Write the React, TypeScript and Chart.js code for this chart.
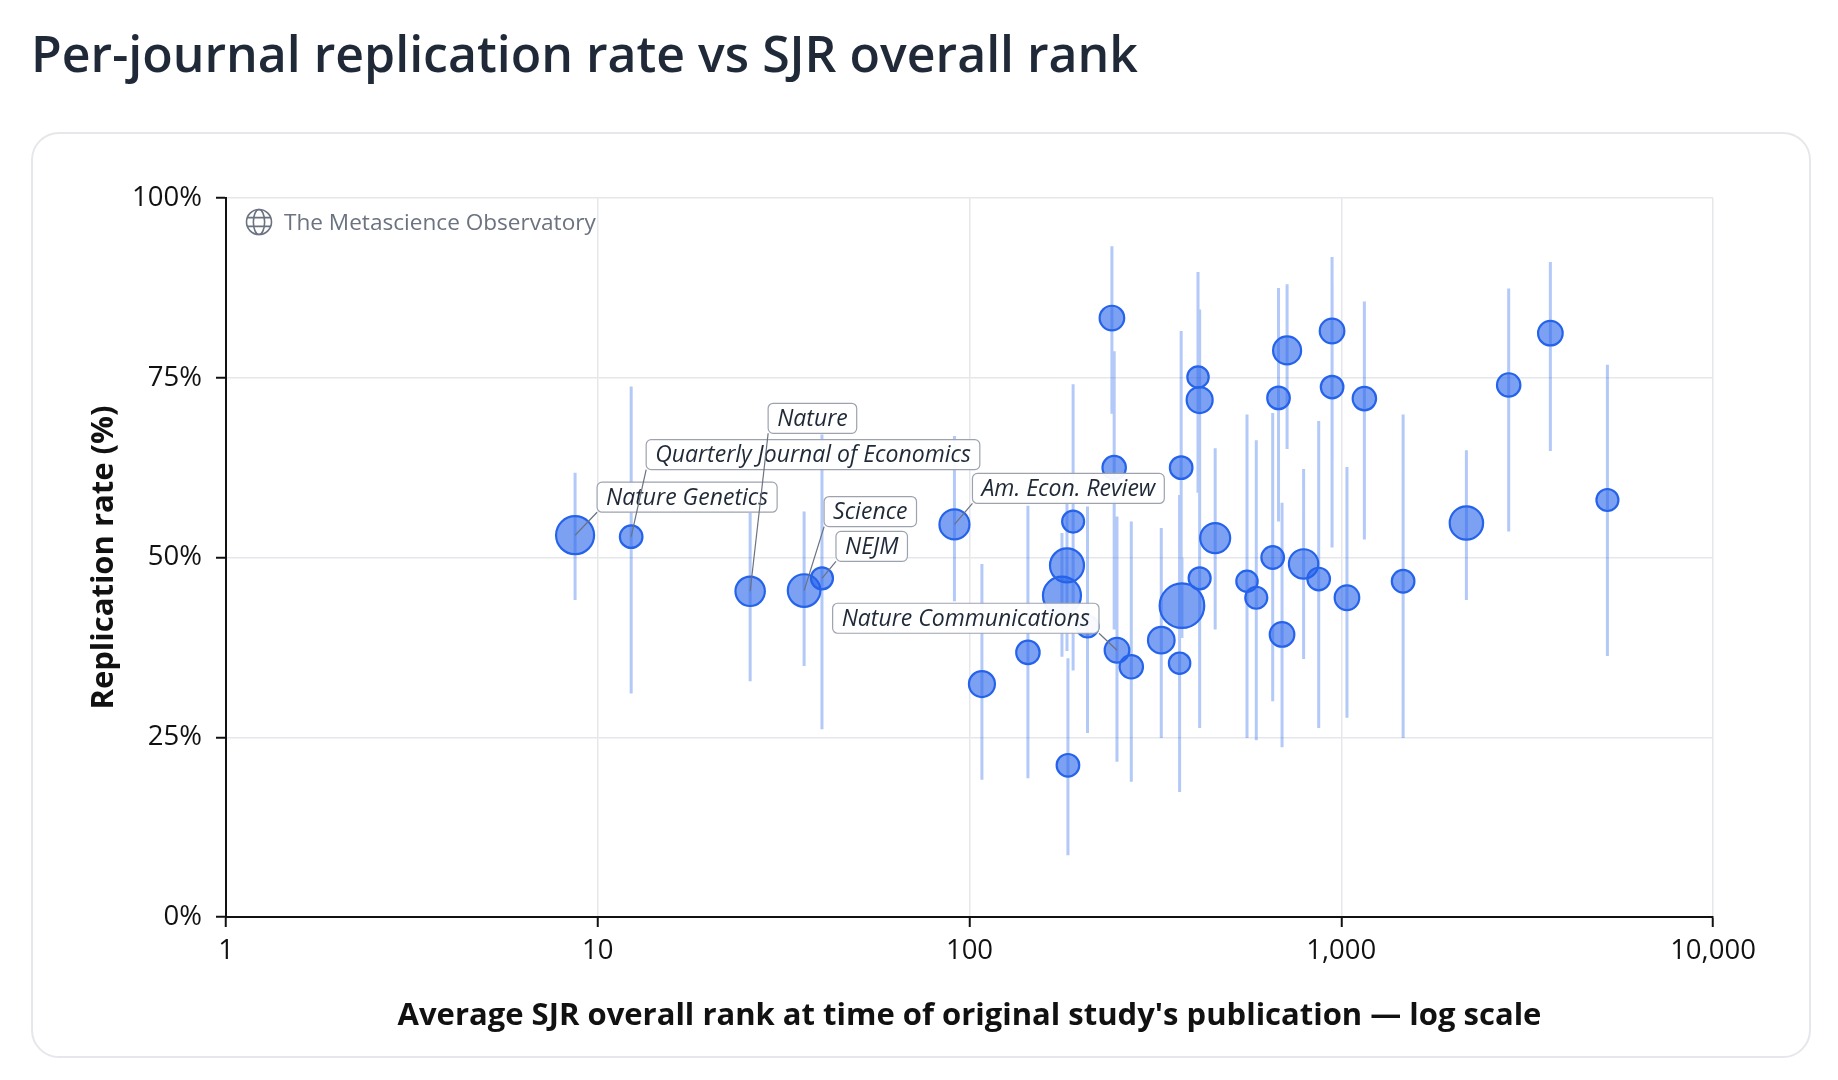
import { useEffect, useRef } from "react"
import { Chart, registerables } from "chart.js"

Chart.register(...registerables)

// journal names (blank = unlabelled point)
const journals = [
  "Nature Genetics", "Quarterly Journal of Economics", "Nature", "Science", "NEJM", "Am. Econ. Review",
  "", "", "", "", "", "", "", "", "", "Nature Communications", "", "", "", "", "", "", "", "", "",
  "", "", "", "", "", "", "", "", "", "", "", "", "", "", "", "", "",
]
// average SJR overall rank (x, log scale)
const ranks = [
  8.69, 12.3, 25.7, 35.9, 40.1, 91.1, 108, 143.6, 177.3, 182.9, 184, 190, 207.7, 241.6, 245, 249.3,
  272.4, 328, 367.4, 371, 372.8, 411.8, 416, 416, 458, 557.8, 590.8, 654, 678, 693, 715, 792, 869.6,
  944.6, 945, 1036, 1154, 1467, 2171, 2821, 3652, 5200,
]
// replication rate (%)
const rates = [
  53.1, 52.9, 45.3, 45.4, 47.1, 54.6, 32.4, 36.8, 44.7, 48.9, 21.1, 55.0, 40.4, 83.3, 62.5, 37.1,
  34.8, 38.5, 35.3, 62.5, 43.3, 75.1, 71.9, 47.1, 52.7, 46.7, 44.4, 50.0, 72.2, 39.3, 78.8, 49.1, 47.0,
  81.5, 73.7, 44.4, 72.1, 46.7, 54.8, 74.0, 81.2, 58.0,
]
const ciLow = [
  44.1, 31.1, 32.8, 34.9, 26.1, 43.9, 19.1, 19.3, 36.2, 37.0, 8.6, 34.3, 25.6, 70.0, 40.0, 21.6,
  18.8, 24.9, 17.4, 45.0, 38.8, 59.0, 58.0, 26.3, 40.0, 24.9, 24.6, 30.0, 55.0, 23.6, 65.1, 35.9, 26.3,
  51.4, 63.4, 27.7, 52.5, 24.9, 44.1, 53.6, 64.8, 36.3,
]
const ciHigh = [
  61.8, 73.8, 56.2, 56.4, 67.1, 66.9, 49.1, 57.2, 53.4, 59.4, 36.0, 74.1, 57.1, 93.3, 78.7, 55.7,
  55.0, 54.1, 58.7, 81.5, 50.0, 89.7, 84.5, 60.0, 65.2, 69.9, 66.3, 70.1, 87.5, 57.6, 88.0, 62.3, 69.0,
  91.8, 88.2, 62.6, 85.6, 69.9, 64.9, 87.4, 91.1, 76.8,
]
// bubble size (number of replications, shown as radius)
const bubbleSizes = [
  19, 11.3, 14.7, 16.3, 11, 15, 13, 11.7, 19, 17, 11.3, 11, 11, 12.3, 11.7, 12.3,
  11.7, 13.3, 10.7, 11.3, 22.3, 10.7, 13, 11, 15, 10.7, 11, 11.3, 11.3, 12.3, 14, 14.7, 11.3,
  12.3, 11.3, 12.3, 11.7, 11.3, 16.7, 11.7, 12.3, 11,
]
const xTicks = [1, 10, 100, 1000, 10000]
const yTicks = [0, 25, 50, 75, 100]

// where each callout box sits relative to its point
const callouts = [
  { name: "Nature Genetics", dx: 22, dy: -23, anchor: "left" },
  { name: "Quarterly Journal of Economics", dx: 15, dy: -67, anchor: "left" },
  { name: "Nature", dx: 18, dy: -158, anchor: "left" },
  { name: "Science", dx: 20, dy: -64, anchor: "left" },
  { name: "NEJM", dx: 14, dy: -17, anchor: "left" },
  { name: "Am. Econ. Review", dx: 18, dy: -21, anchor: "left" },
  { name: "Nature Communications", dx: -18, dy: -17, anchor: "right" },
]

const FONT = "'Open Sans', 'Noto Sans', sans-serif"

const watermarkPlugin = {
  id: "watermark",
  beforeDatasetsDraw(chart: Chart) {
    const { ctx, chartArea } = chart
    const cx = chartArea.left + 33
    const cy = chartArea.top + 24
    const r = 12.5
    ctx.save()
    ctx.strokeStyle = "#6b7280"
    ctx.lineWidth = 1.6
    ctx.beginPath()
    ctx.arc(cx, cy, r, 0, Math.PI * 2)
    ctx.stroke()
    ctx.beginPath()
    ctx.ellipse(cx, cy, r * 0.45, r, 0, 0, Math.PI * 2)
    ctx.stroke()
    ctx.beginPath()
    ctx.moveTo(cx - r * 0.93, cy - r * 0.35)
    ctx.lineTo(cx + r * 0.93, cy - r * 0.35)
    ctx.moveTo(cx - r * 0.93, cy + r * 0.35)
    ctx.lineTo(cx + r * 0.93, cy + r * 0.35)
    ctx.stroke()
    ctx.fillStyle = "#6b7280"
    ctx.font = `22.6px ${FONT}`
    ctx.textBaseline = "alphabetic"
    ctx.fillText("The Metascience Observatory", chartArea.left + 58, chartArea.top + 32)
    ctx.restore()
  },
}

const calloutPlugin = {
  id: "callouts",
  afterDatasetsDraw(chart: Chart) {
    const { ctx } = chart
    const xs = chart.scales.x
    const ys = chart.scales.y
    const boxH = 30
    const padX = 9
    ctx.save()
    ctx.font = `italic 23px ${FONT}`
    const geo = callouts.map((c) => {
      const i = journals.indexOf(c.name)
      const px = xs.getPixelForValue(ranks[i])
      const py = ys.getPixelForValue(rates[i])
      const w = ctx.measureText(c.name).width + padX * 2
      const left = c.anchor === "right" ? px + c.dx - w : px + c.dx
      const bottom = py + c.dy
      return { c, px, py, w, left, bottom }
    })
    geo.forEach(({ c, w, left, bottom }) => {
      ctx.beginPath()
      ctx.roundRect(left, bottom - boxH, w, boxH, 5)
      ctx.fillStyle = "rgba(255,255,255,0.95)"
      ctx.fill()
      ctx.strokeStyle = "#9ca3af"
      ctx.lineWidth = 1.2
      ctx.stroke()
      ctx.fillStyle = "#1f2937"
      ctx.textBaseline = "middle"
      ctx.fillText(c.name, left + padX, bottom - boxH / 2 + 1)
    })
    geo.forEach(({ c, px, py, w, left, bottom }) => {
      const ax = c.anchor === "right" ? left + w : left
      ctx.beginPath()
      ctx.moveTo(ax, bottom)
      ctx.lineTo(px, py)
      ctx.strokeStyle = "#6b7280"
      ctx.lineWidth = 1.2
      ctx.stroke()
    })
    ctx.restore()
  },
}

export default function App() {
  const chartRef = useRef<HTMLCanvasElement>(null)

  useEffect(() => {
    if (!chartRef.current) return
    const ctx = chartRef.current.getContext("2d")
    if (!ctx) return

    const bubbles = ranks.map((x, i) => ({ x, y: rates[i], r: bubbleSizes[i] }))
    const whiskers = ranks.flatMap((x, i) => [
      { x, y: ciLow[i] },
      { x, y: ciHigh[i] },
      { x, y: null },
    ])

    const chart = new Chart(ctx, {
      type: "bubble",
      data: {
        datasets: [
          {
            type: "bubble",
            label: "Journals",
            data: bubbles,
            backgroundColor: "rgba(37, 99, 235, 0.6)",
            borderColor: "#2563eb",
            borderWidth: 2.2,
            order: 0,
          },
          {
            type: "line",
            label: "95% CI",
            data: whiskers as any,
            borderColor: "rgba(37, 99, 235, 0.35)",
            borderWidth: 3,
            pointRadius: 0,
            spanGaps: false,
            order: 1,
          },
        ],
      },
      options: {
        responsive: false,
        animation: false,
        layout: { padding: { left: 0, top: 64, right: 96, bottom: 0 } },
        plugins: {
          legend: { display: false },
          tooltip: { enabled: false },
        },
        scales: {
          x: {
            type: "logarithmic",
            min: 1,
            max: 10000,
            afterBuildTicks: (s: any) => {
              s.ticks = xTicks.map((value) => ({ value }))
            },
            afterFit: (s: any) => {
              s.height = 139
            },
            ticks: {
              color: "#111",
              font: { size: 27.5, family: FONT },
              padding: 8,
              maxRotation: 0,
              autoSkip: false,
              callback: (v) => Number(v).toLocaleString("en-US"),
            },
            grid: { color: "#e5e7eb", lineWidth: 1.5, tickColor: "#111", tickLength: 10, tickWidth: 2 },
            border: { color: "#111", width: 2 },
            title: {
              display: true,
              text: "Average SJR overall rank at time of original study's publication — log scale",
              color: "#111",
              font: { size: 31, weight: "bold", family: FONT },
              padding: { top: 0, bottom: 21 },
            },
          },
          y: {
            min: 0,
            max: 100,
            afterBuildTicks: (s: any) => {
              s.ticks = yTicks.map((value) => ({ value }))
            },
            afterFit: (s: any) => {
              s.width = 193
            },
            ticks: {
              color: "#111",
              font: { size: 27.5, family: FONT },
              padding: 14,
              callback: (v) => `${v}%`,
            },
            grid: { color: "#e5e7eb", lineWidth: 1.5, tickColor: "#111", tickLength: 10, tickWidth: 2 },
            border: { color: "#111", width: 2 },
            title: {
              display: true,
              text: "Replication rate (%)",
              color: "#111",
              font: { size: 31, weight: "bold", family: FONT },
              padding: { top: 53, bottom: 0 },
            },
          },
        },
      },
      plugins: [watermarkPlugin, calloutPlugin],
    })

    return () => chart.destroy()
  }, [])

  return (
    <div
      style={{
        position: "absolute",
        left: 0,
        top: 0,
        width: 1838,
        height: 1080,
        background: "#fff",
        fontFamily: FONT,
      }}
    >
      <h1
        style={{
          position: "absolute",
          left: 31,
          top: 28,
          margin: 0,
          fontSize: 50,
          fontWeight: 600,
          lineHeight: 1,
          color: "#1f2937",
          whiteSpace: "nowrap",
        }}
      >
        Per-journal replication rate vs SJR overall rank
      </h1>
      <div
        style={{
          position: "absolute",
          left: 31,
          top: 132,
          width: 1780,
          height: 926,
          border: "2px solid #e5e7eb",
          borderRadius: 28,
          boxSizing: "border-box",
        }}
      >
        <canvas ref={chartRef} width={1776} height={922} style={{ display: "block" }} />
      </div>
    </div>
  )
}
